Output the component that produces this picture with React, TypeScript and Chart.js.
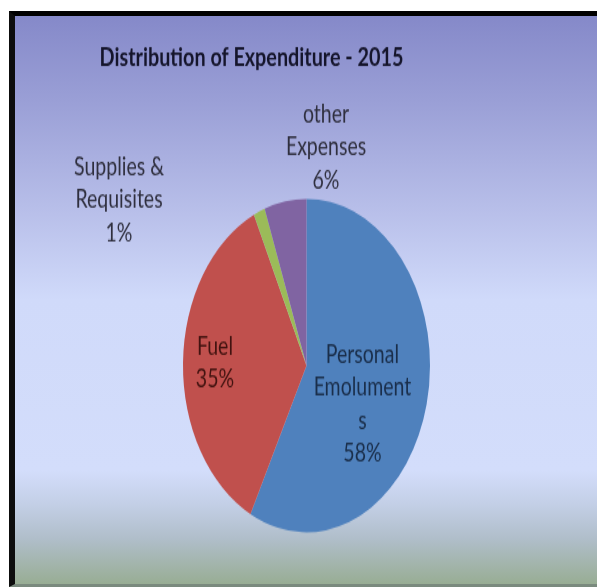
import React, { useEffect, useRef } from "react";
import { Chart, registerables } from "chart.js";

Chart.register(...registerables);

// ---- data ----
const categories = ["Personal Emoluments", "Fuel", "Supplies & Requisites", "other Expenses"];
const values = [57.5, 35.5, 1.5, 5.5];
const percentLabels = ["58%", "35%", "1%", "6%"];
const labelLines = [["Personal", "Emolument", "s"], ["Fuel"], ["Supplies &", "Requisites"], ["other", "Expenses"]];
const sliceColors = ["#4f81bd", "#c0504d", "#9bbb59", "#8064a2"];
const titleText = "Distribution of Expenditure - 2015";

// ---- layout / style (not data) ----
const STRETCH = 1.35;
const FONT = "Lato, 'Open Sans', sans-serif";
const labelOffsets = [
  [0.453, 0.231],
  [-0.741, -0.016],
  [-1.518, -0.997],
  [0.158, -1.311],
];
const labelColors = ["#1a2e4a", "#421310", "#2f2f3e", "#2f2f3e"];
const LINE_H = 24.5;

const labelPlugin = {
  id: "customLabels",
  afterDatasetsDraw(chart: any) {
    const ctx = chart.ctx;
    const meta = chart.getDatasetMeta(0);
    const arc = meta.data[0];
    if (!arc) return;
    const { x, y, outerRadius } = arc.getProps(["x", "y", "outerRadius"], true);
    ctx.save();
    // title
    ctx.font = `bold 19.8px ${FONT}`;
    ctx.fillStyle = "#15152b";
    ctx.textAlign = "center";
    ctx.textBaseline = "middle";
    ctx.fillText(titleText, x - 55, 31);
    // slice labels
    ctx.font = `19.5px ${FONT}`;
    categories.forEach((_, i) => {
      const lines = [...labelLines[i], percentLabels[i]];
      const cx = x + labelOffsets[i][0] * outerRadius;
      const cy = y + labelOffsets[i][1] * outerRadius;
      const start = cy - ((lines.length - 1) * LINE_H) / 2;
      ctx.fillStyle = labelColors[i];
      lines.forEach((ln, j) => ctx.fillText(ln, cx, start + j * LINE_H));
    });
    ctx.restore();
  },
};

export default function App() {
  const canvasRef = useRef<HTMLCanvasElement | null>(null);

  useEffect(() => {
    document.body.style.margin = "0";
    const canvas = canvasRef.current;
    if (!canvas) return;
    const chart = new Chart(canvas, {
      type: "pie",
      data: {
        labels: categories,
        datasets: [
          {
            data: values,
            backgroundColor: sliceColors,
            borderWidth: 0,
          },
        ],
      },
      options: {
        animation: false,
        responsive: true,
        maintainAspectRatio: false,
        devicePixelRatio: 1,
        layout: { padding: { top: 135.4, bottom: 38.6, left: 1, right: 0 } },
        plugins: {
          legend: { display: false },
          tooltip: { enabled: false },
          title: { display: false },
        },
      },
      plugins: [labelPlugin],
    });
    return () => chart.destroy();
  }, []);

  const gradient =
    "linear-gradient(to bottom, #8589c9 0%, #9a9fd6 15%, #b9c0ea 35%, #d0dafa 50%, #d3ddfb 80%, #c3cfe6 86%, #b0beca 92%, #98ad94 100%)";

  return (
    <div style={{ position: "relative", width: 597, height: 587, background: "#fff", overflow: "hidden" }}>
      <div
        style={{
          position: "absolute",
          left: 9,
          top: 11,
          width: 588,
          height: 576,
          boxSizing: "border-box",
          borderTop: "5px solid #000",
          borderLeft: "6px solid #0d0d0d",
          borderBottom: "3px solid #7a8a7e",
          background: gradient,
        }}
      />
      <div
        style={{
          position: "absolute",
          left: 15,
          top: 16,
          width: 582,
          height: 421,
          transform: `scaleY(${STRETCH})`,
          transformOrigin: "0 0",
        }}
      >
        <canvas ref={canvasRef} />
      </div>
    </div>
  );
}
